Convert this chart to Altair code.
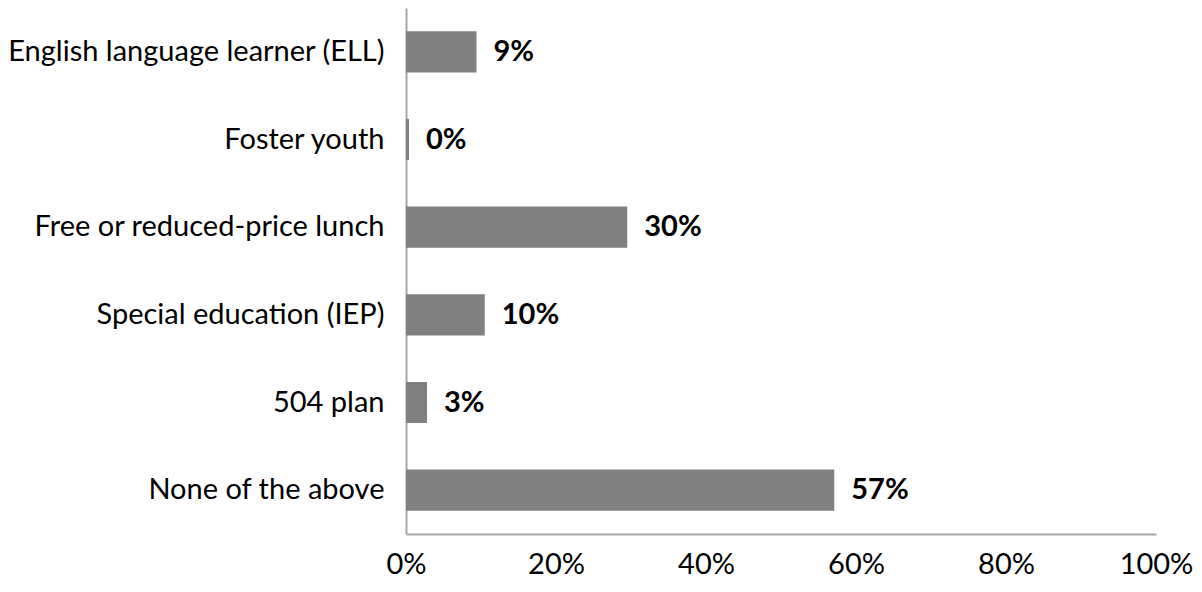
import altair as alt
import pandas as pd

categories = ["English language learner (ELL)", "Foster youth", "Free or reduced-price lunch",
              "Special education (IEP)", "504 plan", "None of the above"]
values = [9.4, 0.4, 29.5, 10.5, 2.8, 57.1]
labels = ["9%", "0%", "30%", "10%", "3%", "57%"]

df = pd.DataFrame({"cat": categories, "val": values, "lab": labels})

FONT = "Lato"
FS = 29

y = alt.Y("cat:N", sort=categories, title=None,
          scale=alt.Scale(paddingInner=0.53, paddingOuter=0.265),
          axis=alt.Axis(ticks=False, labelPadding=22, labelFont=FONT, labelFontSize=FS,
                        labelColor="#000000", domainColor="#a6a6a6", domainWidth=2, labelLimit=600))
x = alt.X("val:Q", title=None, scale=alt.Scale(domain=[0, 100]),
          axis=alt.Axis(values=[0, 20, 40, 60, 80, 100], labelExpr="datum.value + '%'",
                        ticks=False, grid=False, labelPadding=16, labelFont=FONT, labelFontSize=FS,
                        labelColor="#000000", domainColor="#a6a6a6", domainWidth=2, labelFlush=False))

bars = alt.Chart(df).mark_bar(color="#808080").encode(x=x, y=y)
text = alt.Chart(df).mark_text(align="left", baseline="middle", dx=17, font=FONT, fontSize=FS,
                               fontWeight="bold", color="#000000").encode(
    x="val:Q", y=alt.Y("cat:N", sort=categories), text="lab:N")

chart = (bars + text).properties(
    width=750, height=526,
    autosize=alt.AutoSizeParams(type="none"),
    padding={"left": 398, "top": 0, "right": 38, "bottom": 50},
).configure_view(stroke=None)

chart.save("out.html", embed_options={"renderer": "svg", "actions": False})
